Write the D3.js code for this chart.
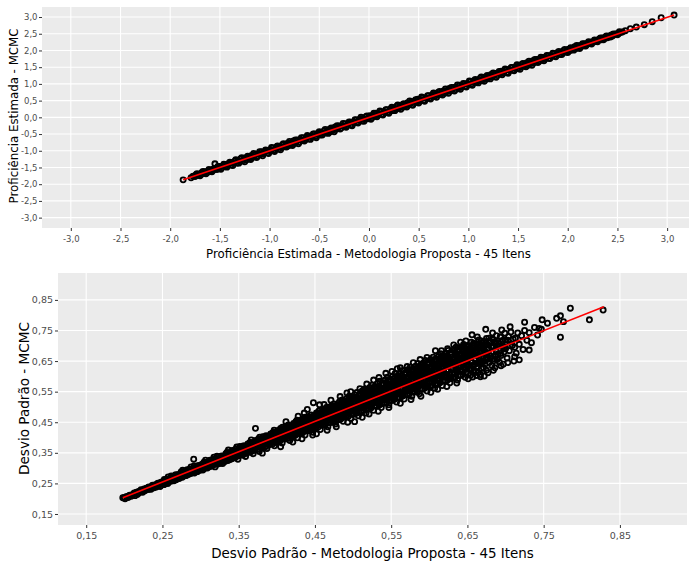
<!DOCTYPE html>
<html><head><meta charset="utf-8">
<script src="https://cdn.jsdelivr.net/npm/d3@7"></script>
<style>body{margin:0;background:#fff}svg{display:block}</style>
</head><body>
<svg id="chart" width="689" height="563"></svg>
<script>
// ---------- data ----------
const profTicks = [-3.0,-2.5,-2.0,-1.5,-1.0,-0.5,0.0,0.5,1.0,1.5,2.0,2.5,3.0];
const sdTicks = [0.15,0.25,0.35,0.45,0.55,0.65,0.75,0.85];

const profTitleX = "Proficiência Estimada - Metodologia Proposta - 45 Itens";
const profTitleY = "Proficiência Estimada - MCMC";
const sdTitleX = "Desvio Padrão - Metodologia Proposta - 45 Itens";
const sdTitleY = "Desvio Padrão - MCMC";

// [proposed, MCMC] proficiency estimates
const profPoints = [
[-1.87,-1.87],[-1.79,-1.81],[-1.77,-1.76],[-1.75,-1.77],[-1.74,-1.72],[-1.72,-1.73],[-1.71,-1.70],[-1.69,-1.71],[-1.68,-1.65],[-1.66,-1.67],
[-1.65,-1.63],[-1.63,-1.66],[-1.62,-1.61],[-1.60,-1.59],[-1.59,-1.62],[-1.57,-1.55],[-1.56,-1.57],[-1.55,-1.39],[-1.54,-1.52],[-1.53,-1.56],
[-1.51,-1.50],[-1.50,-1.47],[-1.48,-1.51],[-1.47,-1.46],[-1.45,-1.42],[-1.44,-1.47],[-1.42,-1.41],[-1.41,-1.38],[-1.39,-1.43],[-1.38,-1.36],
[-1.36,-1.37],[-1.35,-1.31],[-1.33,-1.37],[-1.32,-1.30],[-1.30,-1.33],[-1.29,-1.24],[-1.27,-1.30],[-1.26,-1.25],[-1.24,-1.21],[-1.23,-1.27],
[-1.21,-1.19],[-1.20,-1.22],[-1.18,-1.14],[-1.17,-1.20],[-1.15,-1.14],[-1.14,-1.10],[-1.12,-1.16],[-1.11,-1.09],[-1.09,-1.11],[-1.08,-1.03],
[-1.06,-1.09],[-1.05,-1.04],[-1.03,-0.99],[-1.02,-1.06],[-1.00,-0.98],[-0.99,-1.01],[-0.97,-0.92],[-0.96,-0.99],[-0.94,-0.93],[-0.93,-0.89],
[-0.91,-0.95],[-0.90,-0.88],[-0.88,-0.90],[-0.87,-0.82],[-0.85,-0.88],[-0.84,-0.83],[-0.82,-0.78],[-0.81,-0.85],[-0.79,-0.77],[-0.78,-0.80],
[-0.76,-0.71],[-0.75,-0.78],[-0.73,-0.72],[-0.72,-0.68],[-0.70,-0.74],[-0.69,-0.67],[-0.67,-0.69],[-0.66,-0.61],[-0.64,-0.67],[-0.63,-0.62],
[-0.61,-0.57],[-0.60,-0.64],[-0.58,-0.56],[-0.57,-0.59],[-0.55,-0.50],[-0.54,-0.57],[-0.52,-0.51],[-0.51,-0.47],[-0.49,-0.53],[-0.48,-0.46],
[-0.46,-0.48],[-0.45,-0.40],[-0.43,-0.46],[-0.42,-0.41],[-0.40,-0.36],[-0.39,-0.43],[-0.37,-0.35],[-0.36,-0.38],[-0.34,-0.29],[-0.33,-0.36],
[-0.31,-0.30],[-0.30,-0.26],[-0.28,-0.32],[-0.27,-0.25],[-0.25,-0.27],[-0.24,-0.19],[-0.22,-0.25],[-0.21,-0.20],[-0.19,-0.15],[-0.18,-0.22],
[-0.16,-0.14],[-0.15,-0.17],[-0.13,-0.08],[-0.12,-0.15],[-0.10,-0.09],[-0.09,-0.05],[-0.07,-0.11],[-0.06,-0.04],[-0.04,-0.06],[-0.03,0.02],
[-0.01,-0.04],[0.00,0.01],[0.01,0.05],[0.03,-0.01],[0.04,0.06],[0.06,0.04],[0.07,0.12],[0.09,0.06],[0.10,0.11],[0.12,0.16],
[0.13,0.09],[0.15,0.17],[0.16,0.14],[0.18,0.23],[0.19,0.16],[0.21,0.22],[0.22,0.26],[0.24,0.20],[0.25,0.27],[0.27,0.25],
[0.28,0.33],[0.30,0.27],[0.31,0.32],[0.33,0.37],[0.34,0.30],[0.36,0.38],[0.37,0.35],[0.39,0.44],[0.40,0.37],[0.42,0.43],
[0.43,0.47],[0.45,0.41],[0.46,0.48],[0.48,0.46],[0.49,0.54],[0.51,0.48],[0.52,0.53],[0.54,0.58],[0.55,0.51],[0.57,0.59],
[0.58,0.56],[0.60,0.65],[0.61,0.58],[0.63,0.64],[0.64,0.68],[0.66,0.62],[0.67,0.69],[0.69,0.67],[0.70,0.75],[0.72,0.69],
[0.73,0.74],[0.75,0.79],[0.76,0.72],[0.78,0.80],[0.79,0.77],[0.81,0.86],[0.82,0.79],[0.84,0.85],[0.85,0.89],[0.87,0.83],
[0.88,0.90],[0.90,0.88],[0.91,0.96],[0.93,0.90],[0.94,0.95],[0.96,1.00],[0.97,0.93],[0.99,1.01],[1.00,0.98],[1.02,1.07],
[1.03,1.00],[1.05,1.06],[1.06,1.10],[1.08,1.04],[1.09,1.11],[1.11,1.09],[1.12,1.17],[1.14,1.11],[1.15,1.16],[1.17,1.21],
[1.18,1.14],[1.20,1.22],[1.21,1.19],[1.23,1.28],[1.24,1.21],[1.26,1.27],[1.27,1.31],[1.29,1.25],[1.30,1.32],[1.32,1.30],
[1.33,1.38],[1.35,1.32],[1.36,1.37],[1.38,1.42],[1.39,1.35],[1.41,1.43],[1.42,1.40],[1.44,1.49],[1.45,1.42],[1.47,1.48],
[1.48,1.52],[1.50,1.46],[1.51,1.53],[1.53,1.51],[1.54,1.59],[1.56,1.53],[1.57,1.58],[1.59,1.63],[1.60,1.56],[1.62,1.64],
[1.63,1.61],[1.65,1.69],[1.66,1.63],[1.68,1.69],[1.69,1.73],[1.71,1.67],[1.72,1.74],[1.74,1.72],[1.75,1.79],[1.77,1.74],
[1.78,1.79],[1.80,1.84],[1.81,1.77],[1.83,1.85],[1.84,1.82],[1.86,1.90],[1.87,1.84],[1.89,1.90],[1.90,1.94],[1.92,1.88],
[1.93,1.95],[1.95,1.93],[1.96,2.00],[1.98,1.95],[1.99,2.00],[2.01,2.04],[2.02,1.99],[2.04,2.06],[2.05,2.03],[2.07,2.11],
[2.08,2.05],[2.10,2.11],[2.11,2.14],[2.13,2.10],[2.14,2.16],[2.16,2.14],[2.17,2.20],[2.19,2.17],[2.20,2.21],[2.22,2.24],
[2.23,2.21],[2.25,2.26],[2.26,2.25],[2.28,2.30],[2.29,2.27],[2.31,2.32],[2.32,2.34],[2.34,2.32],[2.35,2.37],[2.37,2.36],
[2.38,2.40],[2.40,2.38],[2.42,2.43],[2.44,2.46],[2.45,2.43],[2.47,2.48],[2.49,2.50],[2.51,2.50],[2.53,2.54],[2.55,2.55],
[2.58,2.59],[2.63,2.65],[2.69,2.70],[2.77,2.77],[2.85,2.86],[2.94,2.98],[3.07,3.06],
[-1.73,-1.69],[-1.70,-1.75],[-1.67,-1.62],[-1.64,-1.69],[-1.61,-1.56],[-1.58,-1.63],[-1.52,-1.47],[-1.49,-1.55],[-1.46,-1.40],[-1.43,-1.49],
[-1.40,-1.34],[-1.37,-1.44],[-1.34,-1.27],[-1.31,-1.37],[-1.28,-1.21],[-1.25,-1.33],[-1.22,-1.16],[-1.19,-1.26],[-1.16,-1.08],[-1.13,-1.20],
[-1.10,-1.03],[-1.07,-1.15],[-1.04,-0.98],[-1.01,-1.08],[-0.98,-0.90],[-0.95,-1.02],[-0.92,-0.86],[-0.89,-0.97],[-0.86,-0.79],[-0.83,-0.89],
[-0.80,-0.72],[-0.77,-0.84],[-0.74,-0.68],[-0.71,-0.79],[-0.68,-0.61],[-0.65,-0.71],[-0.62,-0.54],[-0.59,-0.66],[-0.56,-0.50],[-0.53,-0.61],
[-0.50,-0.43],[-0.47,-0.53],[-0.44,-0.36],[-0.41,-0.48],[-0.38,-0.32],[-0.35,-0.43],[-0.32,-0.25],[-0.29,-0.35],[-0.26,-0.18],[-0.23,-0.30],
[-0.20,-0.14],[-0.17,-0.25],[-0.14,-0.07],[-0.11,-0.17],[-0.08,0.00],[-0.05,-0.12],[-0.02,0.04],[0.02,-0.06],[0.05,0.12],[0.08,0.02],
[0.11,0.19],[0.14,0.07],[0.17,0.23],[0.20,0.12],[0.23,0.30],[0.26,0.20],[0.29,0.37],[0.32,0.24],[0.35,0.41],[0.38,0.31],
[0.41,0.49],[0.44,0.36],[0.47,0.53],[0.50,0.43],[0.53,0.61],[0.56,0.48],[0.59,0.65],[0.62,0.55],[0.65,0.73],[0.68,0.60],
[0.71,0.77],[0.74,0.67],[0.77,0.85],[0.80,0.72],[0.83,0.89],[0.86,0.79],[0.89,0.97],[0.92,0.84],[0.95,1.01],[0.98,0.91],
[1.01,1.09],[1.04,0.96],[1.07,1.13],[1.10,1.03],[1.13,1.21],[1.16,1.08],[1.19,1.25],[1.22,1.15],[1.25,1.33],[1.28,1.20],
[1.31,1.37],[1.34,1.27],[1.37,1.45],[1.40,1.32],[1.43,1.49],[1.46,1.39],[1.49,1.57],[1.52,1.44],[1.55,1.61],[1.58,1.51],
[1.61,1.68],[1.64,1.56],[1.67,1.73],[1.70,1.64],[1.73,1.80],[1.76,1.69],[1.79,1.85],[1.82,1.76],[1.85,1.92],[1.88,1.81],
[1.91,1.97],[1.94,1.88],[1.97,2.03],[2.00,1.94],[2.03,2.08],[2.06,2.01],[2.09,2.15],[2.12,2.06],[2.15,2.20],[2.18,2.13],
[2.21,2.26],[2.24,2.19],[2.27,2.31],[2.30,2.26],[2.33,2.37],[2.36,2.32],[2.39,2.43],[2.43,2.40],[2.46,2.49],[2.50,2.47],[2.52,2.56]
];
const profFit = [[-1.87,-1.87],[3.07,3.06]];

// [proposed, MCMC] standard deviations
const sdPoints = [
[.198,.203],[.201,.200],[.203,.207],[.205,.204],[.207,.211],[.209,.208],
[.211,.213],[.213,.219],[.214,.210],[.216,.221],[.218,.217],[.219,.224],
[.221,.222],[.222,.229],[.224,.221],[.226,.232],[.227,.226],[.229,.234],
[.231,.230],[.232,.238],[.234,.236],[.235,.231],[.237,.244],[.238,.240],[.239,.236],
[.241,.246],[.242,.238],[.244,.251],[.245,.244],[.247,.240],[.248,.254],[.249,.249],
[.251,.256],[.252,.246],[.253,.261],[.255,.252],[.256,.264],[.257,.250],[.258,.259],[.259,.262],
[.261,.257],[.262,.270],[.263,.265],[.265,.259],[.266,.275],[.267,.268],[.268,.262],[.269,.273],
[.271,.279],[.272,.266],[.273,.274],[.275,.285],[.276,.270],[.277,.280],[.278,.274],[.279,.289],
[.281,.276],[.282,.288],[.283,.293],[.284,.279],[.285,.285],[.286,.296],[.287,.282],[.288,.291],[.289,.285],
[.291,.295],[.292,.284],[.293,.301],[.294,.292],[.295,.306],[.296,.289],[.297,.299],[.298,.307],[.299,.293],
[.301,.302],[.302,.313],[.303,.294],[.304,.307],[.305,.299],[.306,.317],[.307,.304],[.308,.311],[.309,.300],
[.311,.318],[.312,.305],[.313,.325],[.314,.313],[.315,.307],[.316,.322],[.317,.329],[.318,.312],[.319,.304],[.319,.320],
[.321,.327],[.322,.313],[.323,.336],[.324,.322],[.325,.316],[.326,.331],[.327,.338],[.328,.321],[.329,.315],[.329,.331],
[.331,.336],[.332,.322],[.333,.346],[.334,.330],[.335,.341],[.336,.325],[.337,.350],[.338,.336],[.339,.328],[.339,.343],
[.341,.346],[.341,.331],[.342,.357],[.343,.340],[.344,.351],[.345,.334],[.346,.362],[.347,.346],[.348,.339],[.349,.355],[.349,.329],
[.351,.357],[.351,.341],[.352,.368],[.353,.350],[.354,.362],[.355,.343],[.356,.372],[.357,.356],[.358,.347],[.359,.366],[.359,.338],
[.361,.368],[.361,.350],[.362,.379],[.363,.358],[.364,.373],[.365,.352],[.366,.384],[.367,.366],[.368,.356],[.369,.377],[.369,.347],
[.371,.377],[.371,.360],[.372,.389],[.373,.369],[.374,.384],[.375,.361],[.376,.395],[.376,.375],[.377,.354],[.378,.387],[.379,.367],[.379,.393],
[.381,.386],[.381,.368],[.382,.401],[.383,.378],[.384,.395],[.385,.371],[.386,.406],[.386,.385],[.387,.364],[.388,.398],[.389,.376],[.389,.404],
[.391,.397],[.391,.377],[.392,.412],[.393,.388],[.394,.406],[.395,.380],[.396,.418],[.396,.395],[.397,.373],[.398,.409],[.399,.386],[.399,.415],
[.401,.408],[.401,.386],[.402,.423],[.403,.397],[.404,.417],[.404,.389],[.405,.430],[.406,.405],[.407,.382],[.408,.420],[.408,.396],[.409,.427],[.409,.412],
[.411,.418],[.411,.395],[.412,.434],[.413,.406],[.414,.428],[.414,.398],[.415,.441],[.416,.415],[.417,.390],[.418,.431],[.418,.405],[.419,.438],[.419,.422],
[.421,.429],[.421,.404],[.422,.446],[.423,.415],[.424,.439],[.424,.407],[.425,.452],[.426,.425],[.427,.399],[.428,.442],[.428,.414],[.429,.449],[.429,.432],
[.431,.440],[.431,.413],[.432,.457],[.433,.424],[.434,.450],[.434,.416],[.435,.463],[.436,.436],[.437,.408],[.437,.445],[.438,.453],[.438,.423],[.439,.460],[.439,.431],
[.441,.451],[.441,.422],[.442,.468],[.443,.433],[.444,.461],[.444,.425],[.445,.474],[.446,.447],[.447,.417],[.447,.456],[.448,.464],[.448,.432],[.449,.471],[.449,.441],
[.451,.462],[.451,.431],[.452,.480],[.453,.442],[.454,.472],[.454,.434],[.455,.486],[.456,.458],[.457,.426],[.457,.467],[.458,.475],[.458,.441],[.459,.483],[.459,.451],
[.461,.473],[.461,.440],[.462,.492],[.463,.451],[.463,.468],[.464,.484],[.464,.443],[.465,.498],[.466,.469],[.467,.435],[.467,.478],[.468,.487],[.468,.450],[.469,.495],[.469,.461],
[.471,.484],[.471,.449],[.472,.504],[.473,.461],[.473,.478],[.474,.496],[.474,.452],[.475,.510],[.476,.480],[.477,.444],[.477,.489],[.478,.499],[.478,.459],[.479,.507],[.479,.471],
[.481,.495],[.481,.458],[.482,.516],[.483,.470],[.483,.488],[.484,.508],[.484,.461],[.485,.522],[.486,.491],[.487,.453],[.487,.500],[.488,.511],[.488,.468],[.489,.519],[.489,.480],
[.491,.506],[.491,.467],[.492,.528],[.493,.479],[.493,.498],[.494,.520],[.494,.470],[.495,.535],[.495,.489],[.496,.502],[.497,.462],[.497,.511],[.498,.523],[.498,.477],[.499,.531],[.499,.490],
[.501,.517],[.501,.476],[.502,.540],[.503,.488],[.503,.509],[.504,.532],[.504,.479],[.505,.547],[.505,.499],[.506,.513],[.507,.471],[.507,.522],[.508,.535],[.508,.486],[.509,.543],[.509,.500],
[.511,.528],[.511,.485],[.512,.552],[.513,.497],[.513,.520],[.514,.544],[.514,.488],[.515,.559],[.515,.509],[.516,.524],[.517,.480],[.517,.533],[.518,.547],[.518,.495],[.519,.555],[.519,.510],
[.521,.539],[.521,.494],[.522,.564],[.523,.506],[.523,.531],[.524,.556],[.524,.497],[.525,.571],[.525,.518],[.526,.535],[.527,.489],[.527,.544],[.528,.559],[.528,.504],[.529,.567],[.529,.520],[.526,.548],
[.531,.550],[.531,.503],[.532,.576],[.533,.515],[.533,.541],[.534,.568],[.534,.506],[.535,.584],[.535,.528],[.536,.546],[.537,.498],[.537,.555],[.538,.571],[.538,.513],[.539,.579],[.539,.530],[.536,.560],
[.541,.561],[.541,.512],[.542,.588],[.543,.524],[.543,.552],[.544,.580],[.544,.515],[.545,.597],[.545,.538],[.546,.557],[.547,.507],[.547,.566],[.548,.583],[.548,.522],[.549,.591],[.549,.541],[.546,.572],
[.551,.572],[.551,.521],[.552,.600],[.553,.533],[.553,.563],[.554,.592],[.554,.524],[.555,.609],[.555,.548],[.556,.568],[.557,.516],[.557,.577],[.558,.595],[.558,.531],[.559,.603],[.559,.551],[.556,.584],[.553,.545],
[.561,.582],[.561,.531],[.562,.610],[.563,.543],[.563,.573],[.564,.602],[.564,.534],[.565,.619],[.565,.558],[.566,.578],[.567,.526],[.567,.587],[.568,.605],[.568,.541],[.569,.613],[.569,.561],[.566,.594],[.563,.555],
[.571,.593],[.571,.540],[.572,.622],[.573,.553],[.573,.584],[.574,.613],[.574,.543],[.575,.630],[.575,.568],[.576,.589],[.577,.535],[.577,.598],[.578,.616],[.578,.550],[.579,.625],[.579,.571],[.576,.605],[.573,.565],
[.581,.604],[.581,.549],[.582,.633],[.583,.562],[.583,.595],[.584,.624],[.584,.552],[.585,.642],[.585,.578],[.586,.600],[.587,.543],[.587,.609],[.588,.628],[.588,.559],[.589,.637],[.589,.581],[.586,.616],[.583,.574],
[.591,.614],[.591,.558],[.592,.643],[.593,.572],[.593,.605],[.594,.634],[.594,.561],[.595,.652],[.595,.588],[.596,.610],[.597,.552],[.597,.619],[.598,.638],[.598,.568],[.599,.647],[.599,.591],[.596,.626],[.593,.584],
[.601,.625],[.601,.567],[.602,.655],[.603,.581],[.603,.616],[.604,.645],[.604,.570],[.605,.663],[.605,.598],[.606,.621],[.607,.561],[.607,.630],[.608,.649],[.608,.577],[.609,.658],[.609,.601],[.606,.637],[.603,.594],
[.611,.635],[.611,.576],[.612,.665],[.613,.590],[.613,.626],[.614,.655],[.614,.579],[.615,.674],[.615,.608],[.616,.631],[.617,.570],[.617,.640],[.618,.660],[.618,.586],[.619,.668],[.619,.611],[.616,.647],[.613,.604],
[.621,.645],[.621,.585],[.622,.676],[.623,.599],[.623,.636],[.624,.666],[.624,.588],[.625,.685],[.625,.618],[.626,.641],[.627,.579],[.627,.650],[.628,.671],[.628,.595],[.629,.679],[.629,.621],[.626,.657],
[.631,.655],[.631,.594],[.632,.686],[.633,.608],[.633,.646],[.634,.676],[.634,.597],[.635,.695],[.635,.628],[.636,.651],[.637,.588],[.637,.660],[.638,.681],[.638,.604],[.639,.689],[.639,.631],[.636,.667],
[.641,.665],[.641,.603],[.642,.695],[.643,.617],[.643,.656],[.644,.686],[.644,.606],[.645,.704],[.645,.638],[.646,.661],[.647,.597],[.647,.670],[.648,.690],[.648,.613],[.649,.698],[.649,.641],
[.651,.670],[.651,.610],[.652,.700],[.653,.622],[.653,.660],[.654,.690],[.654,.604],[.655,.712],[.656,.645],[.657,.598],[.657,.675],[.658,.694],[.658,.618],[.659,.703],[.659,.638],
[.661,.678],[.661,.617],[.662,.706],[.663,.630],[.664,.696],[.664,.612],[.665,.719],[.666,.652],[.667,.606],[.667,.683],[.668,.700],[.668,.626],[.669,.710],[.669,.646],
[.671,.688],[.671,.628],[.672,.714],[.673,.640],[.674,.703],[.675,.620],[.675,.724],[.676,.662],[.677,.612],[.678,.692],[.679,.716],[.679,.645],
[.681,.698],[.682,.636],[.683,.722],[.684,.650],[.685,.712],[.686,.628],[.687,.671],[.688,.733],[.689,.700],[.689,.655],
[.691,.707],[.692,.646],[.693,.730],[.694,.668],[.696,.717],[.697,.640],[.698,.690],[.699,.741],
[.701,.712],[.702,.660],[.704,.730],[.705,.684],[.707,.745],[.709,.701],
[.711,.650],[.713,.725],[.714,.676],[.716,.742],[.718,.705],
[.721,.733],[.723,.688],[.725,.750],[.728,.718],
[.731,.743],[.734,.710],[.738,.760],[.742,.735],[.747,.754],
[.291,.329],[.372,.430],[.448,.514],[.456,.507],[.558,.625],[.785,.823],[.810,.785],[.828,.817],[.772,.728],[.772,.798],
[.776,.779],[.748,.785],[.755,.774],[.744,.757],[.725,.777],[.731,.686],[.718,.654],[.656,.736],[.674,.754],[.767,.790],
[.632,.703],[.608,.684],[.543,.610],[.497,.550],[.440,.492],[.502,.452],[.667,.599],[.447,.408],[.381,.349],
[.200,.204],[.206,.208],[.210,.212],[.215,.218],[.217,.214],[.220,.224],[.225,.227],[.228,.231],[.230,.233],[.233,.232],[.236,.240],
[.240,.242],[.243,.247],[.246,.250],[.250,.247],[.252,.253],[.254,.258],[.257,.261],[.260,.258],[.262,.263],[.264,.269],[.267,.272],
[.270,.268],[.272,.274],[.274,.280],[.277,.284],[.279,.279],[.280,.278],[.282,.282],[.284,.290],[.286,.289],[.288,.296],
[.290,.287],[.292,.293],[.294,.299],[.296,.303],[.298,.295],[.300,.296],[.302,.303],[.304,.312],[.306,.308],[.308,.316],
[.310,.306],[.312,.314],[.314,.321],[.316,.316],[.318,.327],[.320,.316],[.322,.324],[.324,.331],[.326,.326],[.328,.337],
[.330,.325],[.332,.334],[.334,.342],[.336,.337],[.338,.348],[.340,.335],[.342,.345],[.344,.353],[.346,.348],[.348,.358],[.347,.341],
[.350,.345],[.352,.355],[.354,.364],[.356,.359],[.358,.370],[.357,.350],[.360,.354],[.362,.365],[.364,.375],[.366,.369],[.368,.381],[.367,.360],
[.370,.364],[.372,.376],[.374,.386],[.376,.380],[.378,.392],[.377,.369],[.380,.374],[.382,.386],[.384,.397],[.386,.391],[.388,.403],[.387,.379],
[.390,.383],[.392,.397],[.394,.408],[.396,.402],[.398,.414],[.397,.389],[.400,.393],[.402,.407],[.404,.419],[.406,.412],[.408,.425],[.407,.399],
[.410,.402],[.412,.417],[.414,.430],[.416,.423],[.418,.436],[.417,.408],[.420,.412],[.422,.428],[.424,.441],[.426,.434],[.428,.447],[.427,.418],
[.430,.421],[.432,.438],[.434,.452],[.436,.445],[.438,.459],[.437,.427],[.440,.431],[.442,.449],[.444,.463],[.446,.456],[.448,.470],[.447,.437],
[.450,.440],[.452,.459],[.454,.474],[.456,.467],[.458,.481],[.457,.446],[.455,.452],[.460,.450],[.462,.470],[.464,.485],[.466,.478],[.468,.492],[.467,.456],[.465,.462],
[.470,.459],[.472,.480],[.474,.496],[.476,.489],[.478,.503],[.477,.465],[.475,.472],[.480,.469],[.482,.491],[.484,.507],[.486,.500],[.488,.514],[.487,.475],[.485,.482],
[.490,.478],[.492,.501],[.494,.518],[.496,.511],[.498,.526],[.497,.484],[.495,.492],[.500,.488],[.502,.512],[.504,.529],[.506,.522],[.508,.537],[.507,.494],[.505,.502],
[.510,.497],[.512,.522],[.514,.540],[.516,.533],[.518,.549],[.517,.503],[.515,.512],[.520,.507],[.522,.533],[.524,.551],[.526,.544],[.528,.561],[.527,.513],[.525,.522],
[.530,.516],[.532,.543],[.534,.562],[.536,.555],[.538,.573],[.537,.522],[.535,.532],[.540,.526],[.542,.554],[.544,.573],[.546,.566],[.548,.585],[.547,.532],[.545,.542],
[.550,.535],[.552,.564],[.554,.584],[.556,.577],[.558,.597],[.557,.541],[.555,.552],[.559,.570],[.560,.545],[.562,.575],[.564,.595],[.566,.588],[.568,.608],[.567,.551],[.565,.562],[.569,.580],
[.570,.554],[.572,.585],[.574,.606],[.576,.599],[.578,.620],[.577,.560],[.575,.572],[.579,.591],[.580,.564],[.582,.596],[.584,.617],[.586,.610],[.588,.632],[.587,.570],[.585,.582],[.589,.601],
[.590,.573],[.592,.606],[.594,.628],[.596,.621],[.598,.643],[.597,.579],[.595,.592],[.599,.612],[.600,.583],[.602,.617],[.604,.639],[.606,.632],[.608,.655],[.607,.589],[.605,.602],[.609,.622],
[.610,.592],[.612,.627],[.614,.650],[.616,.643],[.618,.666],[.617,.598],[.615,.612],[.619,.633],[.620,.602],[.622,.638],[.624,.661],[.626,.654],[.628,.678],[.627,.608],[.625,.622],[.629,.643],
[.630,.611],[.632,.648],[.634,.672],[.636,.665],[.638,.689],[.637,.617],[.635,.632],[.639,.654],[.640,.621],[.642,.659],[.644,.683],[.646,.676],[.648,.700],[.647,.627],[.645,.642],[.649,.664],
[.650,.630],[.652,.668],[.654,.692],[.656,.684],[.658,.708],[.657,.636],[.655,.651],[.659,.673],[.660,.640],[.662,.678],[.664,.702],[.666,.694],[.668,.716],[.667,.646],[.665,.660],[.669,.683],
[.670,.650],[.672,.688],[.674,.712],[.676,.704],[.678,.725],[.677,.656],[.675,.670],[.680,.660],[.682,.697],[.684,.720],[.686,.713],[.688,.680],[.687,.666],
[.690,.672],[.692,.706],[.694,.728],[.696,.698],[.698,.680],[.700,.690],[.703,.718],[.706,.700],[.710,.722],[.712,.695],
[.2515,.250],[.2585,.260],[.2545,.259],[.2565,.264],[.2525,.263],[.2575,.271],
[.2655,.261],[.2605,.260],[.2695,.273],[.2635,.270],[.2675,.278],[.2615,.274],
[.2735,.271],[.2775,.280],[.2715,.277],[.2795,.289],[.2745,.287],[.2765,.293],
[.2815,.277],[.2885,.289],[.2845,.289],[.2865,.295],[.2825,.295],[.2875,.304],
[.2955,.289],[.2905,.289],[.2995,.302],[.2935,.301],[.2975,.309],[.2915,.307],
[.3035,.300],[.3075,.309],[.3015,.307],[.3095,.320],[.3045,.319],[.3065,.326],
[.3115,.305],[.3185,.318],[.3145,.319],[.3165,.326],[.3125,.326],[.3175,.336],
[.3255,.316],[.3205,.317],[.3295,.332],[.3235,.331],[.3275,.340],[.3215,.339],
[.3335,.328],[.3375,.338],[.3315,.337],[.3395,.351],[.3345,.351],[.3365,.359],
[.3415,.333],[.3485,.347],[.3445,.349],[.3465,.356],[.3425,.358],[.3475,.369],
[.3555,.344],[.3505,.346],[.3595,.362],[.3535,.362],[.3575,.372],[.3515,.371],
[.3635,.356],[.3675,.367],[.3615,.368],[.3695,.382],[.3645,.383],[.3665,.392],
[.3715,.361],[.3785,.376],[.3745,.378],[.3765,.387],[.3725,.390],[.3775,.401],
[.3855,.371],[.3805,.374],[.3895,.391],[.3835,.392],[.3875,.403],[.3815,.403],
[.3935,.384],[.3975,.397],[.3915,.398],[.3995,.413],[.3945,.415],[.3965,.424],
[.4015,.389],[.4085,.405],[.4045,.408],[.4065,.418],[.4025,.421],[.4075,.434],
[.4155,.398],[.4105,.402],[.4195,.421],[.4135,.422],[.4175,.434],[.4115,.435],
[.4235,.412],[.4275,.426],[.4215,.428],[.4295,.444],[.4245,.447],[.4265,.457],
[.4315,.417],[.4385,.434],[.4345,.438],[.4365,.449],[.4325,.453],[.4375,.466],
[.4455,.426],[.4405,.431],[.4495,.450],[.4435,.453],[.4475,.466],[.4415,.467],
[.4535,.441],[.4575,.455],[.4515,.458],[.4595,.475],[.4545,.479],[.4565,.490],
[.4615,.445],[.4685,.463],[.4645,.468],[.4665,.479],[.4625,.485],[.4675,.499],
[.4755,.453],[.4705,.460],[.4795,.480],[.4735,.483],[.4775,.497],[.4715,.500],
[.4835,.469],[.4875,.484],[.4815,.488],[.4895,.506],[.4845,.511],[.4865,.523],
[.4915,.473],[.4985,.492],[.4945,.498],[.4965,.510],[.4925,.516],[.4975,.531],
[.5055,.481],[.5005,.488],[.5095,.509],[.5035,.514],[.5075,.528],[.5015,.532],
[.5135,.497],[.5175,.514],[.5115,.518],[.5195,.537],[.5145,.543],[.5165,.556],
[.5215,.501],[.5285,.521],[.5245,.528],[.5265,.541],[.5225,.548],[.5275,.564],
[.5355,.508],[.5305,.517],[.5395,.539],[.5335,.544],[.5375,.560],[.5315,.564],
[.5435,.525],[.5475,.543],[.5415,.549],[.5495,.568],[.5445,.575],[.5465,.589],
[.5515,.529],[.5585,.550],[.5545,.558],[.5565,.572],[.5525,.580],[.5575,.597],
[.5655,.537],[.5605,.546],[.5695,.569],[.5635,.575],[.5675,.591],[.5615,.595],
[.5735,.554],[.5775,.572],[.5715,.579],[.5795,.599],[.5745,.606],[.5765,.621],
[.5815,.557],[.5885,.579],[.5845,.587],[.5865,.602],[.5825,.611],[.5875,.628],
[.5955,.565],[.5905,.575],[.5995,.598],[.5935,.605],[.5975,.621],[.5915,.627],
[.6035,.583],[.6075,.602],[.6015,.609],[.6095,.630],[.6045,.638],[.6065,.652],
[.6115,.586],[.6185,.608],[.6145,.617],[.6165,.632],[.6125,.641],[.6175,.659],
[.6255,.593],[.6205,.604],[.6295,.628],[.6235,.635],[.6275,.652],[.6215,.658],
[.6335,.612],[.6375,.632],[.6315,.639],[.6395,.660],[.6345,.668],[.6365,.683],
[.6415,.616],[.6485,.638],[.6445,.647],[.6465,.663],[.6425,.672],[.6475,.690],
[.6555,.623],[.6505,.634],[.6595,.658],[.6535,.665],[.6575,.682],[.6515,.688],
[.6635,.643],[.6675,.662],[.6615,.669],[.6695,.690],[.6645,.698],
[.6715,.649],[.6785,.670],[.6745,.678],[.6765,.692],[.6725,.700],
[.6855,.657],[.6805,.666],[.6835,.695],[.6875,.711],
[.6935,.675],[.6975,.693],[.6915,.699],[.6995,.719],
[.412,.452],[.428,.470],[.436,.480],[.462,.508],[.471,.522],[.483,.534],[.492,.546],[.509,.560],[.518,.575],[.527,.588],
[.534,.596],[.551,.616],[.562,.628],[.571,.632],[.579,.645],[.588,.655],[.597,.662],[.616,.684],[.624,.690],[.641,.712],
[.648,.716],[.663,.729],[.683,.742],[.695,.752],[.706,.762],
[.405,.370],[.421,.385],[.433,.396],[.452,.412],[.466,.424],[.478,.435],[.493,.450],[.512,.466],[.521,.477],[.533,.486],
[.547,.498],[.562,.512],[.576,.524],[.589,.535],[.602,.548],[.611,.558],[.623,.567],[.636,.578],[.651,.592],[.662,.603],
[.672,.601],[.684,.620],[.694,.635],[.703,.645],[.712,.664]
];
const sdFit = [[.198,.203],[.829,.828]];

// ---------- drawing ----------
const svg = d3.select("#chart");
const loc = d3.formatLocale({decimal: ",", thousands: ".", grouping: [3], currency: ["", ""], minus: "-"});
const FONT = "DejaVu Sans, Verdana, sans-serif";

function fitText(sel, target) {
  const len = sel.node().getComputedTextLength();
  const fs = parseFloat(sel.attr("font-size"));
  sel.attr("font-size", (fs * target / len).toFixed(2));
}

function drawPanel(o) {
  const x = d3.scaleLinear().domain(o.xDomain).range([o.left, o.right]);
  const y = d3.scaleLinear().domain(o.yDomain).range([o.bottom, o.top]);
  const g = svg.append("g");
  g.append("rect").attr("x", o.left).attr("y", o.top)
    .attr("width", o.right - o.left).attr("height", o.bottom - o.top).attr("fill", "#EBEBEB");
  g.append("g").selectAll("line").data(o.xTicks).join("line")
    .attr("x1", d => x(d)).attr("x2", d => x(d)).attr("y1", o.top).attr("y2", o.bottom)
    .attr("stroke", "#fff").attr("stroke-width", 1.1);
  g.append("g").selectAll("line").data(o.yTicks).join("line")
    .attr("y1", d => y(d)).attr("y2", d => y(d)).attr("x1", o.left).attr("x2", o.right)
    .attr("stroke", "#fff").attr("stroke-width", 1.1);

  const clip = "clip" + o.id;
  svg.append("clipPath").attr("id", clip).append("rect")
    .attr("x", o.left).attr("y", o.top).attr("width", o.right - o.left).attr("height", o.bottom - o.top);
  const pg = g.append("g").attr("clip-path", `url(#${clip})`);
  pg.selectAll("circle").data(o.points).join("circle")
    .attr("cx", d => x(d[0])).attr("cy", d => y(d[1])).attr("r", o.r)
    .attr("fill", "none").attr("stroke", "#000").attr("stroke-width", o.sw);
  pg.append("path").datum(o.fit)
    .attr("d", d3.line().x(d => x(d[0])).y(d => y(d[1])))
    .attr("fill", "none").attr("stroke", "#FF0000").attr("stroke-width", 1.6);

  const fmt = loc.format(o.fmt);
  const ax = g.append("g").attr("transform", `translate(0,${o.bottom})`)
    .call(d3.axisBottom(x).tickValues(o.xTicks).tickFormat(fmt).tickSize(3).tickPadding(o.xPad));
  const ay = g.append("g").attr("transform", `translate(${o.left},0)`)
    .call(d3.axisLeft(y).tickValues(o.yTicks).tickFormat(fmt).tickSize(3).tickPadding(o.yPad));
  [ax, ay].forEach(a => {
    a.select(".domain").remove();
    a.selectAll(".tick line").attr("stroke", "#333").attr("stroke-width", 1);
    a.selectAll(".tick text").attr("fill", "#4d4d4d").attr("font-family", FONT).attr("font-size", o.tickFs);
  });

  const tx = svg.append("text").text(o.titleX).attr("x", o.titleXPos[0]).attr("y", o.titleXPos[1])
    .attr("text-anchor", "middle").attr("font-family", FONT).attr("font-size", 12).attr("fill", "#000");
  fitText(tx, o.titleXLen);
  const ty = svg.append("text").text(o.titleY)
    .attr("transform", `translate(${o.titleYPos[0]},${o.titleYPos[1]}) rotate(-90)`)
    .attr("text-anchor", "middle").attr("font-family", FONT).attr("font-size", 12).attr("fill", "#000");
  fitText(ty, o.titleYLen);
}

drawPanel({
  id: "prof", left: 42, right: 689, top: 7, bottom: 228,
  xDomain: [-3.29, 3.22], yDomain: [-3.31, 3.30],
  xTicks: profTicks, yTicks: profTicks, fmt: ".1f",
  points: profPoints, fit: profFit, r: 2.55, sw: 1.85,
  tickFs: 8.5, xPad: 5, yPad: 1.5,
  titleX: profTitleX, titleXPos: [368.5, 258], titleXLen: 325,
  titleY: profTitleY, titleYPos: [17.5, 116], titleYLen: 175
});

drawPanel({
  id: "sd", left: 58, right: 687, top: 273, bottom: 525,
  xDomain: [0.113, 0.938], yDomain: [0.114, 0.938],
  xTicks: sdTicks, yTicks: sdTicks, fmt: ".2f",
  points: sdPoints, fit: sdFit, r: 2.55, sw: 1.85,
  tickFs: 9.5, xPad: 4, yPad: 2,
  titleX: sdTitleX, titleXPos: [372.5, 558], titleXLen: 323,
  titleY: sdTitleY, titleYPos: [28.5, 398.5], titleYLen: 153
});
</script>
</body></html>
